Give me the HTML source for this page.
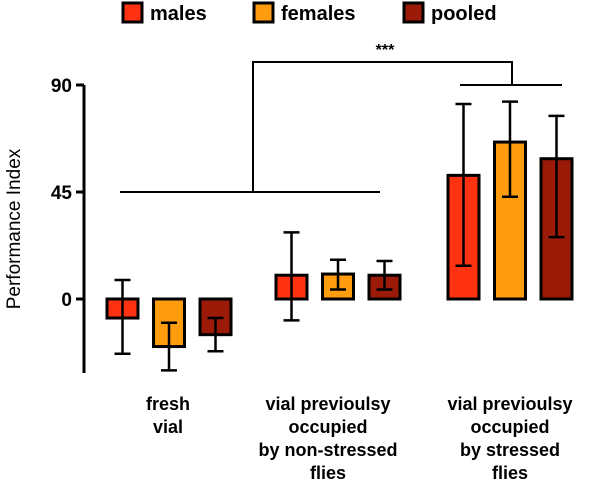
<!DOCTYPE html>
<html><head><meta charset="utf-8"><style>
body{margin:0;background:#fff;}
svg text{font-family:"Liberation Sans",Arial,sans-serif;font-weight:bold;fill:#000;}
</style></head><body>
<svg id="chart" width="600" height="497" viewBox="0 0 600 497">
<g>
<rect x="123" y="3" width="19" height="19" fill="#ff3311" stroke="#000" stroke-width="3"/>
<text x="150" y="20" font-size="20">males</text>
<rect x="254" y="3" width="19" height="19" fill="#ff9d0f" stroke="#000" stroke-width="3"/>
<text x="281" y="20" font-size="20">females</text>
<rect x="404" y="3" width="19" height="19" fill="#9b1a08" stroke="#000" stroke-width="3"/>
<text x="431" y="20" font-size="20">pooled</text>
</g>
<text transform="translate(20,229) rotate(-90)" text-anchor="middle" font-size="19" style="font-weight:normal">Performance Index</text>
<line x1="84" y1="85" x2="84" y2="373" stroke="#000" stroke-width="3"/>
<g id="ticks"></g>
<g id="bars"></g>
<g stroke="#000" stroke-width="2" fill="none">
<polyline points="120,192 380,192"/>
<polyline points="253,192 253,62 512,62 512,85"/>
<polyline points="460,85 562,85"/>
</g>
<text x="385" y="55" text-anchor="middle" font-size="16">***</text>
<g font-size="18" text-anchor="middle">
<text x="168" y="410">fresh</text><text x="168" y="433">vial</text>
<text x="328" y="410">vial previoulsy</text><text x="328" y="433">occupied</text><text x="328" y="456">by non-stressed</text><text x="328" y="479">flies</text>
<text x="510" y="410">vial previoulsy</text><text x="510" y="433">occupied</text><text x="510" y="456">by stressed</text><text x="510" y="479">flies</text>
</g>
</svg>
<script>
const groups=["fresh vial","non-stressed","stressed"];
const series=["males","females","pooled"];
const means=[[-8,-20,-15],[10,10.5,10],[52,66,59]];
const errHi=[[8,-10,-8],[28,16.5,16],[82,83,77]];
const errLo=[[-23,-30,-22],[-9,4,4],[14,43,26]];
const ticks=[0,45,90];
const colors=["#ff3311","#ff9d0f","#9b1a08"];
const ns="http://www.w3.org/2000/svg";
const y=v=>299-v*(107/45);
const groupX=[107,276,448], step=46.5, bw=31;
const tg=document.getElementById('ticks');
ticks.forEach(t=>{
 const l=document.createElementNS(ns,'line');
 l.setAttribute('x1',76);l.setAttribute('x2',84);l.setAttribute('y1',y(t));l.setAttribute('y2',y(t));
 l.setAttribute('stroke','#000');l.setAttribute('stroke-width',3);
 
 
 tg.appendChild(l);
 const tx=document.createElementNS(ns,'text');
 tx.setAttribute('x',72);tx.setAttribute('y',y(t)+7);tx.setAttribute('text-anchor','end');tx.setAttribute('font-size',19);
 tx.textContent=t;
 
 
 tg.appendChild(tx);
});
const bg=document.getElementById('bars');
groups.forEach((g,gi)=>series.forEach((s,si)=>{
 const x=groupX[gi]+si*step, v=means[gi][si];
 const r=document.createElementNS(ns,'rect');
 r.setAttribute('x',x);r.setAttribute('width',bw);
 r.setAttribute('y',Math.min(y(v),y(0)));r.setAttribute('height',Math.abs(y(v)-y(0)));
 r.setAttribute('fill',colors[si]);r.setAttribute('stroke','#000');r.setAttribute('stroke-width',3);
 
 
 bg.appendChild(r);
 const cx=x+bw/2, y1=y(errHi[gi][si]), y2=y(errLo[gi][si]);
 const p=document.createElementNS(ns,'path');
 p.setAttribute('d',`M${cx} ${y1}V${y2}M${cx-8} ${y1}H${cx+8}M${cx-8} ${y2}H${cx+8}`);
 p.setAttribute('stroke','#000');p.setAttribute('stroke-width',2.5);p.setAttribute('fill','none');
 
 
 bg.appendChild(p);
}));
</script>
</body></html>
